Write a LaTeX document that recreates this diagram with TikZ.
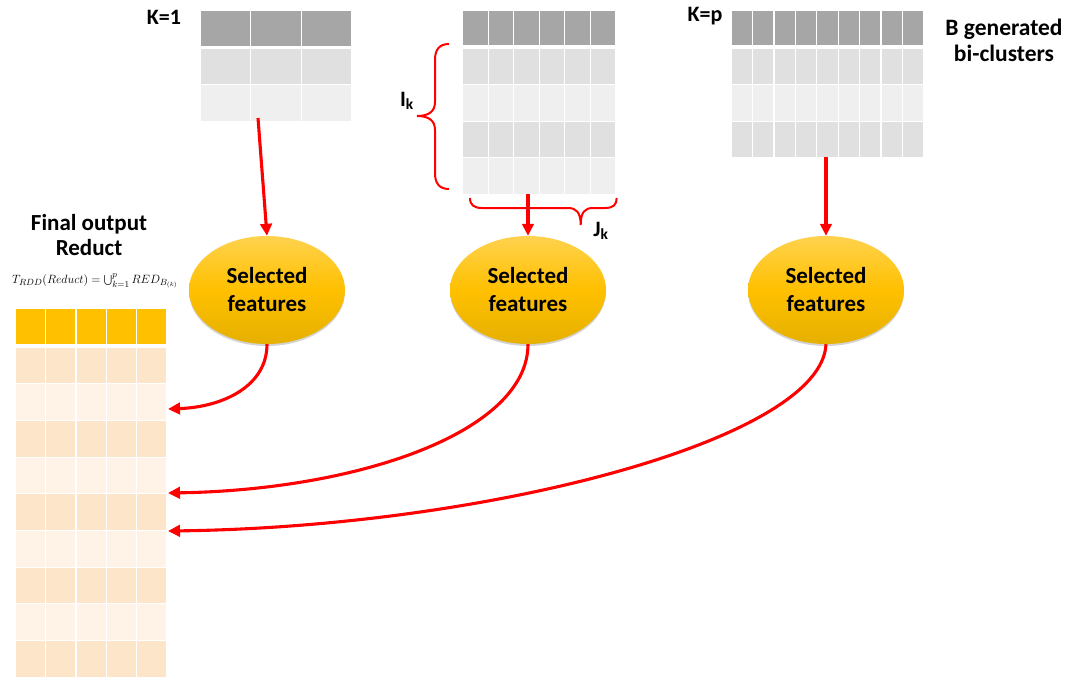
\documentclass[tikz,border=0pt]{standalone}
\usepackage{fontspec}
\setsansfont{Carlito}
\usetikzlibrary{arrows.meta,positioning,shapes.geometric,shadows}

\definecolor{hdrgray}{HTML}{A6A6A6}
\definecolor{rowdark}{HTML}{E0E0E0}
\definecolor{rowlight}{HTML}{EFEFEF}
\definecolor{gold}{HTML}{FFC000}
\definecolor{selTop}{HTML}{FFD24E}
\definecolor{selBot}{HTML}{E6B000}
\definecolor{peachdark}{HTML}{FDE5C9}
\definecolor{peachlight}{HTML}{FEF3E6}
\definecolor{arrowred}{HTML}{FF0000}

\begin{document}
\begin{tikzpicture}[x=1pt, y=-1pt,
  lbl/.style={font=\fontsize{22}{27}\selectfont\sffamily\bfseries, align=center, inner sep=0pt},
  sel/.style={ellipse, minimum width=156pt, minimum height=108pt, inner sep=0pt, align=center,
              font=\fontsize{23}{28}\selectfont\sffamily\bfseries,
              top color=selTop, bottom color=selBot, middle color=gold,
              drop shadow={opacity=0.35, shadow xshift=0pt, shadow yshift=-2pt}},
  tblbox/.style={inner sep=0pt, outer sep=0pt},
  feed/.style={-{Triangle[length=12pt,width=11.5pt]}, line width=3.1pt, draw=arrowred},
  brc/.style={draw=arrowred, line width=2pt},
]
\useasboundingbox (0,0) rectangle (1069,680);

% bi-cluster K=1
\foreach \ya/\yb/\cl in {11/45.5/hdrgray, 49/84/rowdark, 85/121/rowlight}
  \foreach \c in {0,...,2}
    \fill[\cl] ({200+\c*50.6+0.7},\ya) rectangle ({200+(\c+1)*50.6-0.7},\yb);
\node[tblbox, minimum width=152pt, minimum height=110pt] (bc1) at (276,66) {};

% bi-cluster k
\foreach \ya/\yb/\cl in {11/45/hdrgray, 48.7/83.5/rowdark, 84.7/120.5/rowlight, 121.7/156.5/rowdark, 157.7/193.5/rowlight}
  \foreach \c in {0,...,5}
    \fill[\cl] ({462.7+\c*25.5+0.7},\ya) rectangle ({462.7+(\c+1)*25.5-0.7},\yb);
\node[tblbox, minimum width=153pt, minimum height=183pt] (bc2) at (539.2,102.5) {};

% bi-cluster K=p
\foreach \ya/\yb/\cl in {11/45/hdrgray, 48.7/83.5/rowdark, 84.7/120.5/rowlight, 121.7/157/rowdark}
  \foreach \c in {0,...,8}
    \fill[\cl] ({731+\c*21.44+0.7},\ya) rectangle ({731+(\c+1)*21.44-0.7},\yb);
\node[tblbox, minimum width=193pt, minimum height=146pt] (bcp) at (827.5,84) {};

% final reduct table
\foreach \c in {0,...,4}
  \fill[gold] ({15+\c*30.4+0.7},309.3) rectangle ({15+(\c+1)*30.4-0.7},343.7);
\foreach \r in {0,...,8} {
  \pgfmathsetmacro{\ya}{347.7+\r*36.67}
  \pgfmathsetmacro{\yb}{\ya+35.6}
  \ifodd\r \def\cl{peachlight}\else\def\cl{peachdark}\fi
  \foreach \c in {0,...,4}
    \fill[\cl] ({15+\c*30.4+0.7},\ya) rectangle ({15+(\c+1)*30.4-0.7},\yb);
}
\node[tblbox, minimum width=152pt, minimum height=369pt] (reduct) at (91,493.5) {};

% labels
\node[lbl] (k1) at (164,17) {K=1};
\node[lbl] (kp) at (705,16) {K=p};
\node[lbl, font=\fontsize{23.5}{26}\selectfont\sffamily\bfseries] (bgen) at (1004,40) {B generated\\bi-clusters};
\node[lbl, font=\fontsize{23}{25}\selectfont\sffamily\bfseries] (fout) at (89,235) {Final output\\Reduct};
\node[font=\fontsize{12.6}{14}\selectfont, inner sep=0pt] (frm) at (95,281)
  {$T_{RDD}(Reduct) = \bigcup_{k=1}^{p} RED_{B_{(k)}}$};
\node[lbl] (ik) at (407,101) {I\textsubscript{k}};
\node[lbl] (jk) at (601,231) {J\textsubscript{k}};

% braces
\draw[brc] (449,44) .. controls (439,44) and (435,50) .. (435,60) -- (435,102)
  .. controls (435,112) and (428,116) .. (417,116)
  .. controls (428,116) and (435,120) .. (435,130) -- (435,173)
  .. controls (435,183) and (439,189) .. (449,189);
\draw[brc] (470,198) .. controls (470,205) and (474,208) .. (482,208) -- (568,208)
  .. controls (576,208) and (580.7,212) .. (580.7,225)
  .. controls (580.7,212) and (585,208) .. (593,208) -- (605,208)
  .. controls (613,208) and (616.7,205) .. (616.7,198);

% selected features
\node[sel] (sf1) at (267,290) {Selected\\features};
\node[sel] (sf2) at (528,290) {Selected\\features};
\node[sel] (sf3) at (826,290) {Selected\\features};

\draw[feed] ([xshift=-18pt,yshift=3pt]bc1.south) -- (sf1.north);
\draw[feed] (bc2.south -| sf2.north) -- (sf2.north);
\draw[feed] (bcp.south -| sf3.north) -- (sf3.north);

\coordinate (in1) at (168,409);
\coordinate (in2) at (168,493);
\coordinate (in3) at (168,531);
\draw[feed] (sf1.south) .. controls +(0,42) and +(55,-2) .. (in1);
\draw[feed] (sf2.south) .. controls +(0,88) and +(190,-3) .. (in2);
\draw[feed] (sf3.south) .. controls +(-4,95) and +(320,-4) .. (in3);

\end{tikzpicture}
\end{document}
